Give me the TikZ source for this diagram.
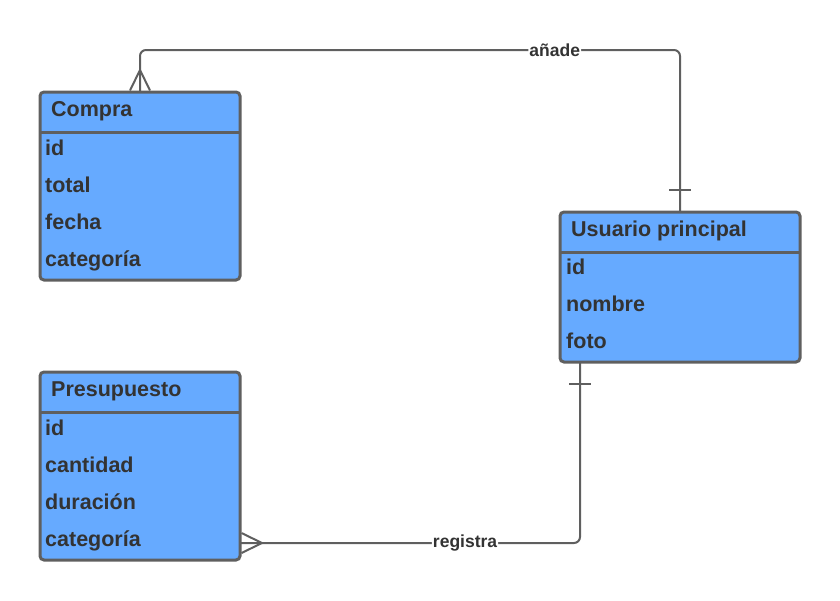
\documentclass[tikz,border=0pt]{standalone}
\usepackage{fontspec}
\setmainfont{Liberation Sans}
\usetikzlibrary{calc}
\definecolor{boxblue}{HTML}{66AAFF}
\definecolor{edge}{HTML}{5F5F5F}
\definecolor{ink}{HTML}{333333}
\tikzset{
  entity/.style={draw=edge,fill=boxblue,line width=3pt,rounded corners=4pt,
    minimum width=200pt,inner sep=0pt,outer sep=0pt,anchor=north west},
  title/.style={anchor=base west,inner sep=0pt,text=ink,
    font=\fontsize{21.5}{24}\selectfont\bfseries},
  field/.style={title},
  link/.style={draw=edge,line width=2pt},
  rel/.style={fill=white,inner sep=1pt,text=ink,
    font=\fontsize{17.5}{19}\selectfont\bfseries}
}
\begin{document}
\begin{tikzpicture}[x=1pt,y=-1pt]
\useasboundingbox (0,0) rectangle (840,600);
% Compra
\node[entity,minimum height=188pt] (compra) at (40,92) {};
\draw[edge,line width=3pt] ([yshift=-40pt]compra.north west) -- ([yshift=-40pt]compra.north east);
\node[title] (compraT) at (51,116) {Compra};
\foreach \f [count=\i] in {id,total,fecha,categoría}
	\node[field] (compra\i) at (45,118+37*\i) {\f};
% Usuario principal
\node[entity,minimum width=240pt,minimum height=150pt] (usuario) at (560,212) {};
\draw[edge,line width=3pt] ([yshift=-40pt]usuario.north west) -- ([yshift=-40pt]usuario.north east);
\node[title] (usuarioT) at (571,236) {Usuario principal};
\foreach \f [count=\i] in {id,nombre,foto}
	\node[field] (usuario\i) at (566,237+37*\i) {\f};
% Presupuesto
\node[entity,minimum height=188pt] (presupuesto) at (40,372) {};
\draw[edge,line width=3pt] ([yshift=-40pt]presupuesto.north west) -- ([yshift=-40pt]presupuesto.north east);
\node[title] (presupuestoT) at (51,396) {Presupuesto};
\foreach \f [count=\i] in {id,cantidad,duración,categoría}
	\node[field] (presupuesto\i) at (45,398+37*\i) {\f};
% relaciones
\draw[link,rounded corners=6pt] (compra.north) -- ++(0,-42) -| node[rel,pos=0.384] {añade} (usuario.north);
\draw[link] ($(compra.north)+(-10,-1.5)$) -- ($(compra.north)+(0,-22)$) -- ($(compra.north)+(10,-1.5)$);
\draw[link] ($(usuario.north)+(-11,-22)$) -- ++(22,0);
\draw[link,rounded corners=6pt] ($(usuario.south west)+(20,0)$) |- node[rel,pos=0.669] {registra} ($(presupuesto.south east)+(0,-17)$);
\draw[link] ($(presupuesto.south east)+(1.5,-27)$) -- ($(presupuesto.south east)+(22,-17)$) -- ($(presupuesto.south east)+(1.5,-7)$);
\draw[link] ($(usuario.south west)+(9,22)$) -- ++(22,0);
\end{tikzpicture}
\end{document}
